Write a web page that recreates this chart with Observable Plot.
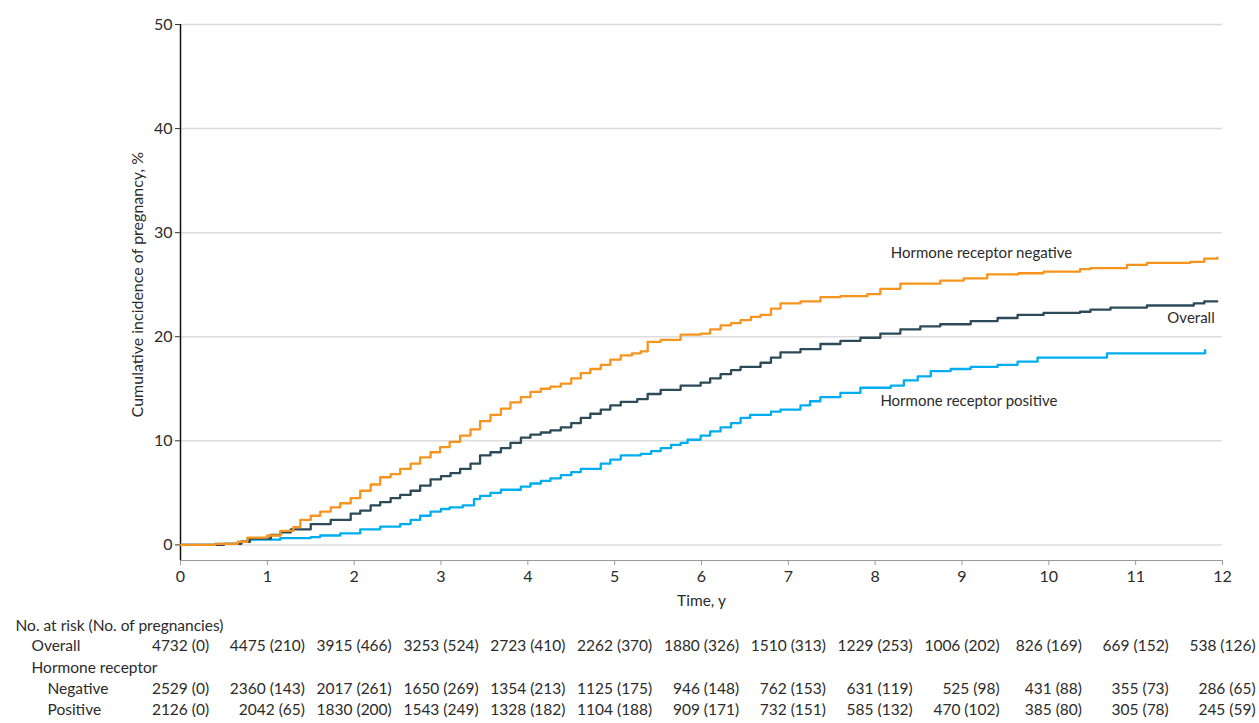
<!DOCTYPE html>
<html>
<head>
<meta charset="utf-8">
<script src="https://cdn.jsdelivr.net/npm/d3@7"></script>
<script src="https://cdn.jsdelivr.net/npm/@observablehq/plot@0.6"></script>
<style>
  html, body { margin: 0; padding: 0; background: #fff; }
  #chart svg { display: block; }
</style>
</head>
<body>
<div id="chart"></div>
<script>
// ---- Data ----
const negativeCurve = [[0,0],[0.4,0.1],[0.66,0.3],[0.77,0.7],[1.0,0.9],[1.15,1.35],[1.3,1.7],[1.38,2.4],[1.5,2.8],[1.61,3.2],[1.73,3.6],[1.84,4.0],[1.96,4.5],[2.07,5.2],[2.19,5.8],[2.3,6.5],[2.42,6.8],[2.53,7.3],[2.65,7.8],[2.76,8.4],[2.88,8.9],[2.99,9.4],[3.1,9.9],[3.22,10.5],[3.34,11.1],[3.45,11.9],[3.57,12.5],[3.69,13.1],[3.8,13.7],[3.92,14.2],[4.03,14.7],[4.15,15.0],[4.26,15.2],[4.38,15.5],[4.5,16.0],[4.61,16.5],[4.72,16.9],[4.84,17.3],[4.95,17.8],[5.07,18.2],[5.2,18.4],[5.3,18.6],[5.38,19.5],[5.53,19.7],[5.76,20.2],[5.99,20.3],[6.1,20.7],[6.22,21.1],[6.34,21.3],[6.45,21.6],[6.57,21.9],[6.68,22.1],[6.8,22.7],[6.91,23.2],[7.14,23.4],[7.37,23.8],[7.6,23.9],[7.91,24.1],[8.06,24.6],[8.29,25.1],[8.75,25.4],[9.02,25.6],[9.29,26.0],[9.65,26.1],[9.94,26.25],[10.36,26.5],[10.48,26.6],[10.9,26.9],[11.13,27.1],[11.63,27.2],[11.79,27.5],[11.94,27.6]];
const overallCurve = [[0,0],[0.5,0.1],[0.7,0.3],[0.8,0.6],[1.04,0.95],[1.15,1.2],[1.27,1.5],[1.5,2.0],[1.73,2.4],[1.96,3.0],[2.07,3.3],[2.19,3.8],[2.3,4.1],[2.42,4.5],[2.53,4.8],[2.65,5.2],[2.76,5.7],[2.88,6.3],[3.0,6.6],[3.11,6.9],[3.22,7.3],[3.34,7.8],[3.45,8.6],[3.57,8.9],[3.69,9.3],[3.8,9.8],[3.92,10.3],[4.03,10.6],[4.15,10.8],[4.26,11.0],[4.38,11.3],[4.5,11.7],[4.61,12.2],[4.72,12.6],[4.84,13.0],[4.95,13.4],[5.07,13.75],[5.26,14.0],[5.38,14.5],[5.53,14.9],[5.76,15.3],[5.99,15.6],[6.1,16.0],[6.22,16.4],[6.34,16.8],[6.45,17.1],[6.68,17.5],[6.8,18.0],[6.91,18.5],[7.14,18.8],[7.37,19.3],[7.6,19.6],[7.83,19.9],[8.06,20.3],[8.29,20.7],[8.52,21.0],[8.75,21.2],[9.1,21.5],[9.41,21.8],[9.64,22.1],[9.94,22.3],[10.36,22.4],[10.48,22.6],[10.71,22.8],[11.13,23.0],[11.67,23.2],[11.79,23.4],[11.94,23.4]];
const positiveCurve = [[0,0],[0.4,0.1],[0.7,0.3],[0.77,0.5],[1.15,0.65],[1.5,0.75],[1.61,0.9],[1.84,1.1],[2.07,1.5],[2.3,1.75],[2.53,2.0],[2.65,2.4],[2.76,2.8],[2.88,3.2],[3.0,3.45],[3.1,3.6],[3.25,3.8],[3.38,4.4],[3.45,4.7],[3.57,5.0],[3.69,5.3],[3.92,5.6],[4.03,5.9],[4.15,6.15],[4.26,6.4],[4.38,6.7],[4.5,7.0],[4.61,7.3],[4.84,7.8],[4.95,8.2],[5.07,8.6],[5.3,8.75],[5.42,9.0],[5.53,9.3],[5.65,9.6],[5.76,9.8],[5.84,10.1],[5.99,10.5],[6.1,10.9],[6.22,11.3],[6.34,11.7],[6.45,12.2],[6.56,12.5],[6.8,12.8],[6.91,13.0],[7.14,13.4],[7.25,13.8],[7.37,14.2],[7.6,14.6],[7.83,15.1],[8.18,15.3],[8.33,15.8],[8.49,16.2],[8.64,16.7],[8.87,16.9],[9.1,17.1],[9.41,17.3],[9.64,17.6],[9.87,18.0],[10.67,18.4],[11.8,18.7]];

const seriesNames = ["Hormone receptor negative", "Overall", "Hormone receptor positive"];
const seriesColors = ["#F7941D", "#2C4B58", "#00AEEF"];

const yTicks = [0, 10, 20, 30, 40, 50];
const xTicks = [0, 1, 2, 3, 4, 5, 6, 7, 8, 9, 10, 11, 12];

const riskTimes = [0, 1, 2, 3, 4, 5, 6, 7, 8, 9, 10, 11, 12];
const overallAtRisk = [4732, 4475, 3915, 3253, 2723, 2262, 1880, 1510, 1229, 1006, 826, 669, 538];
const overallEvents = [0, 210, 466, 524, 410, 370, 326, 313, 253, 202, 169, 152, 126];
const negativeAtRisk = [2529, 2360, 2017, 1650, 1354, 1125, 946, 762, 631, 525, 431, 355, 286];
const negativeEvents = [0, 143, 261, 269, 213, 175, 148, 153, 119, 98, 88, 73, 65];
const positiveAtRisk = [2126, 2042, 1830, 1543, 1328, 1104, 909, 732, 585, 470, 385, 305, 245];
const positiveEvents = [0, 65, 200, 249, 182, 188, 171, 151, 132, 102, 80, 78, 59];

const tableTitle = "No. at risk (No. of pregnancies)";
const rowLabels = ["Overall", "Hormone receptor", "Negative", "Positive"];

// ---- Layout ----
const W = 1259, H = 723;
const mL = 180, mR = 37, mT = 24, mB = 163;
const FONT = "Lato, 'Open Sans', sans-serif";
const TXT = "#2b2b2b";
const TABLE_FS = 15.5;
const pxPerYear = (W - mL - mR) / 12;

const fmt = (n, e) => `${n} (${e})`;
const overallTxt = overallAtRisk.map((n, i) => fmt(n, overallEvents[i]));
const negativeTxt = negativeAtRisk.map((n, i) => fmt(n, negativeEvents[i]));
const positiveTxt = positiveAtRisk.map((n, i) => fmt(n, positiveEvents[i]));

const ctx = document.createElement("canvas").getContext("2d");
ctx.font = `${TABLE_FS}px Lato`;
const colHalf = riskTimes.map((t, i) =>
  Math.max(...[overallTxt[i], negativeTxt[i], positiveTxt[i]].map(s => ctx.measureText(s).width)) / 2);

const rowMark = (texts, dy) => Plot.text(texts, {
  x: (d, i) => riskTimes[i] + colHalf[i] / pxPerYear,
  text: d => d,
  frameAnchor: "bottom",
  dy,
  textAnchor: "end",
  fontSize: TABLE_FS,
  fill: TXT
});

const labelMark = (s, dx, dy) => Plot.text([s], {
  x: () => 0, text: d => d, frameAnchor: "bottom", dx, dy, textAnchor: "start", fontSize: TABLE_FS, fill: TXT
});

const lineMark = (curve, color) => Plot.line(curve, {
  x: d => d[0], y: d => d[1], curve: "step-after", stroke: color, strokeWidth: 2.3
});

const chart = Plot.plot({
  width: W, height: H,
  marginLeft: mL, marginRight: mR, marginTop: mT, marginBottom: mB,
  style: { fontFamily: FONT, fontSize: "15px", color: TXT, background: "#fff", overflow: "visible" },
  x: { domain: [0, 12] },
  y: { domain: [-1.5, 50] },
  marks: [
    Plot.ruleY(yTicks, { stroke: "#dcdcdc", strokeWidth: 1.5 }),
    Plot.ruleY([-1.5], { stroke: "#999", strokeWidth: 1 }),
    Plot.ruleX([0], { y1: -1.5, y2: 50, stroke: "#111", strokeWidth: 1.5 }),
    Plot.axisY({ ticks: yTicks, tickSize: 5, tickPadding: 3, label: null, fontSize: 16, stroke: "#333" }),
    Plot.axisX({ ticks: xTicks, tickSize: 5, tickPadding: 5, label: null, fontSize: 16, stroke: "#999" }),
    lineMark(positiveCurve, seriesColors[2]),
    lineMark(overallCurve, seriesColors[1]),
    lineMark(negativeCurve, seriesColors[0]),
    Plot.text([seriesNames[0]], { x: () => 8.18, y: () => 28.0, text: d => d, textAnchor: "start", fontSize: 15, fill: TXT }),
    Plot.text([seriesNames[1]], { x: () => 11.91, y: () => 21.8, text: d => d, textAnchor: "end", fontSize: 15, fill: TXT }),
    Plot.text([seriesNames[2]], { x: () => 8.06, y: () => 13.85, text: d => d, textAnchor: "start", fontSize: 15, fill: TXT }),
    Plot.text(["Cumulative incidence of pregnancy, %"], { x: () => 0, y: () => 25, text: d => d, rotate: -90, dx: -43, fontSize: 16, fill: TXT }),
    Plot.text(["Time, y"], { x: () => 6, text: d => d, frameAnchor: "bottom", dy: 45, fontSize: 15.5, fill: TXT }),
    labelMark(tableTitle, -165, 70),
    labelMark(rowLabels[0], -149, 90),
    labelMark(rowLabels[1], -149, 112),
    labelMark(rowLabels[2], -133, 133),
    labelMark(rowLabels[3], -133, 154),
    rowMark(overallTxt, 90),
    rowMark(negativeTxt, 133),
    rowMark(positiveTxt, 154)
  ]
});
document.getElementById("chart").appendChild(chart);
</script>
</body>
</html>
